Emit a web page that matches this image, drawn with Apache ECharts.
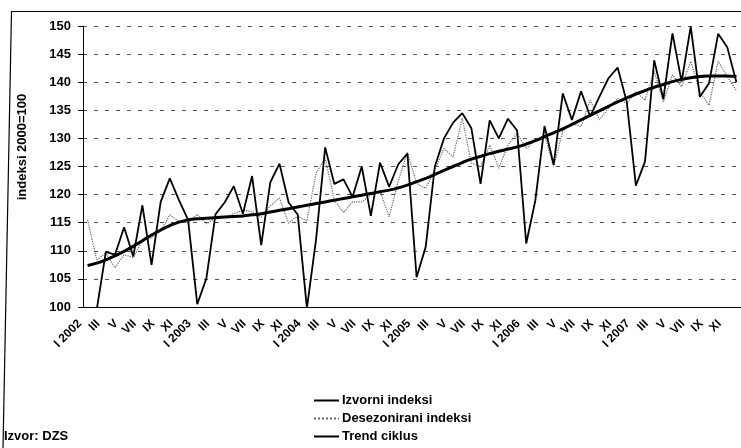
<!DOCTYPE html>
<html>
<head>
<meta charset="utf-8">
<script src="https://cdn.jsdelivr.net/npm/echarts@6/dist/echarts.min.js"></script>
<style>
  html, body { margin: 0; padding: 0; background: #fff; }
  #chart { width: 741px; height: 448px; }
</style>
</head>
<body>
<div id="chart"></div>
<script>
const years = [2002, 2003, 2004, 2005, 2006, 2007]
const months = ['I', 'II', 'III', 'IV', 'V', 'VI', 'VII', 'VIII', 'IX', 'X', 'XI', 'XII']

// Izvorni indeksi (original)
const izvorni = [
  96.0, 99.5, 109.8, 109.3, 114.2, 109.0, 118.1, 107.5, 118.7, 122.9, 119.0, 115.5,
  100.5, 105.1, 116.5, 118.6, 121.5, 116.6, 123.3, 111.0, 122.2, 125.5, 118.6, 116.4,
  99.8, 112.0, 128.4, 121.9, 122.7, 119.6, 125.0, 116.2, 125.7, 121.4, 125.4, 127.3,
  105.3, 110.7, 125.0, 130.0, 132.8, 134.5, 131.8, 121.9, 133.2, 130.0, 133.5, 131.4,
  111.3, 119.0, 132.2, 125.3, 138.0, 133.3, 138.4, 133.9, 137.4, 140.7, 142.6, 136.5,
  121.6, 125.9, 143.9, 137.0, 148.7, 140.1, 149.9, 137.4, 139.8, 148.6, 146.2, 140.0
]

// Desezonirani indeksi (seasonally adjusted)
const desezonirani = [
  115.5, 108.4, 109.6, 107.0, 109.3, 108.8, 111.8, 112.3, 113.5, 116.4, 115.2, 115.0,
  116.5, 114.8, 115.8, 115.9, 116.6, 117.2, 117.0, 116.0, 118.0, 119.4, 114.9, 116.2,
  115.3, 123.8, 126.5, 119.0, 116.8, 118.7, 118.7, 119.9, 120.6, 116.1, 122.4, 127.5,
  122.0, 121.1, 124.4, 128.2, 126.7, 133.6, 125.6, 125.0, 128.8, 124.7, 128.8, 130.9,
  128.2, 129.7, 130.6, 125.0, 131.3, 132.7, 132.1, 136.8, 133.3, 135.4, 137.1, 136.2,
  138.3, 136.8, 141.9, 136.5, 141.3, 139.2, 143.7, 138.3, 135.9, 143.7, 141.0, 138.5
]

// Trend ciklus
const trend = [
  107.4, 107.8, 108.4, 109.1, 109.9, 110.8, 111.8, 112.8, 113.7, 114.5, 115.1, 115.5,
  115.7, 115.8, 115.9, 116.0, 116.1, 116.2, 116.4, 116.6, 116.9, 117.2, 117.5, 117.8,
  118.1, 118.4, 118.7, 119.0, 119.3, 119.6, 119.9, 120.2, 120.5, 120.8, 121.2, 121.7,
  122.3, 122.9, 123.6, 124.3, 125.0, 125.7, 126.3, 126.8, 127.3, 127.7, 128.1, 128.5,
  129.0, 129.6, 130.3, 131.0, 131.7, 132.5, 133.3, 134.1, 134.9, 135.7, 136.5, 137.2,
  137.9, 138.5, 139.1, 139.6, 140.1, 140.5, 140.8, 141.0, 141.1, 141.1, 141.1, 141.0
]

const categories = []
years.forEach(y => {
  months.forEach((m, i) => {
    categories.push(i === 0 ? m + ' ' + y : m)
  })
})

const font = 'Liberation Sans, Arial, sans-serif'

const chart = echarts.init(document.getElementById('chart'))
chart.setOption({
  animation: false,
  backgroundColor: '#fff',
  grid: {
    left: 83,
    top: 26,
    width: 667,
    height: 281
  },
  legend: {
    orient: 'vertical',
    left: 313,
    top: 394,
    height: 80,
    padding: 0,
    itemWidth: 25,
    itemHeight: 14,
    itemGap: 5,
    itemStyle: { opacity: 0 },
    textStyle: { fontFamily: font, fontWeight: 'bold', fontSize: 13, color: '#000', padding: [0, 0, 0, -2] },
    data: ['Izvorni indeksi', 'Desezonirani indeksi', 'Trend ciklus']
  },
  xAxis: {
    type: 'category',
    data: categories,
    boundaryGap: true,
    axisLine: { lineStyle: { color: '#000', width: 1 } },
    axisTick: { interval: 0, length: 4, lineStyle: { color: '#000' } },
    axisLabel: {
      interval: 1,
      rotate: 45,
      margin: 7,
      padding: [0, 11, 0, 0],
      color: '#000',
      fontFamily: font,
      fontWeight: 'bold',
      fontSize: 12
    },
    splitLine: { show: false }
  },
  yAxis: {
    type: 'value',
    min: 100,
    max: 150,
    interval: 5,
    axisLine: { show: true, lineStyle: { color: '#000', width: 1 } },
    axisTick: { show: true, length: 5, lineStyle: { color: '#000' } },
    axisLabel: {
      margin: 12,
      color: '#000',
      fontFamily: font,
      fontWeight: 'bold',
      fontSize: 13
    },
    splitLine: { lineStyle: { color: '#555', width: 1, type: [4, 7] } }
  },
  graphic: [
    {
      type: 'polyline',
      shape: { points: [[741, 11.5], [11.5, 11.5], [3, 448]] },
      style: { stroke: '#000', lineWidth: 1.2, fill: null }
    },
    {
      type: 'text',
      x: 22,
      y: 147,
      rotation: Math.PI / 2,
      style: {
        text: 'indeksi 2000=100',
        font: 'bold 13px ' + font,
        fill: '#000',
        align: 'center',
        verticalAlign: 'middle'
      }
    },
    {
      type: 'text',
      left: 4,
      top: 430,
      style: {
        text: 'Izvor: DZS',
        font: 'bold 13px ' + font,
        fill: '#000'
      }
    }
  ],
  series: [
    {
      name: 'Izvorni indeksi',
      type: 'line',
      data: izvorni,
      symbol: 'none',
      lineStyle: { color: '#000', width: 1.8 },
      itemStyle: { color: '#000' },
      z: 3
    },
    {
      name: 'Desezonirani indeksi',
      type: 'line',
      data: desezonirani,
      symbol: 'none',
      lineStyle: { color: '#666', width: 1.2, type: 'dotted' },
      itemStyle: { color: '#666' },
      z: 2
    },
    {
      name: 'Trend ciklus',
      type: 'line',
      data: trend,
      symbol: 'none',
      smooth: true,
      lineStyle: { color: '#000', width: 3 },
      itemStyle: { color: '#000' },
      z: 4
    }
  ]
})
</script>
</body>
</html>
